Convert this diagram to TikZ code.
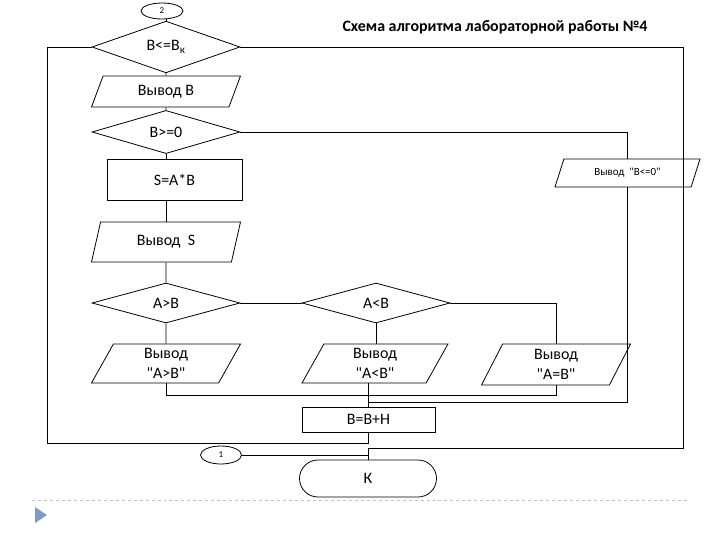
\documentclass[tikz,border=0pt]{standalone}
\usepackage{fontspec}
\setmainfont{Carlito}
\usepackage{tikz}
\usetikzlibrary{shapes.geometric,shapes.misc}
\definecolor{strelka}{RGB}{125,155,200}
\newcommand{\kav}{\textquotedbl}

\tikzset{
  blok/.style={draw, line width=0.8pt, inner sep=0pt, align=center,
    font=\fontsize{16}{20}\selectfont},
  cond/.style={blok, diamond, minimum width=148bp, minimum height=#1},
  io/.style 2 args={blok, trapezium, trapezium left angle=#1,
    trapezium right angle=#2, trapezium stretches body, minimum width=149bp},
  svyaz/.style={draw, line width=0.8pt, ellipse, inner sep=0pt,
    font=\fontsize{9}{10}\selectfont},
  liniya/.style={line width=0.8pt}
}

\begin{document}
\begin{tikzpicture}[x=1bp, y=-1bp]
        \useasboundingbox (0,0) rectangle (720,540);
        %ZAGOLOVOK
        \node[font=\bfseries\fontsize{16}{19}\selectfont] (zagolovok) at (495,27) {Схема алгоритма лабораторной работы №4};
        %BLOKI
        \node[svyaz, minimum width=42bp, minimum height=16bp] (sv2) at (162,11) {2};
        \node[cond=47bp] (uslovie) at (166,47) {B<=B\textsubscript{к}};
        \node[io={48}{132}, minimum height=31bp] (vyvB) at (166,91.5) {Вывод B};
        \node[cond=40bp] (znak) at (166,132) {B>=0};
        \node[blok, rectangle, minimum width=135bp, minimum height=41bp] (raschet) at (174.5,179.5) {S=A*B};
        \node[io={55}{125}, minimum height=40bp] (vyvS) at (166,242) {Вывод\ \ S};
        \node[cond=40bp] (bolshe) at (166,303) {A>B};
        \node[cond=40bp] (menshe) at (376,303) {A<B};
        \node[io={54}{126}, minimum height=39bp] (vyvGT) at (166,363.5) {Вывод\\\kav A>B\kav};
        \node[io={54}{126}, minimum height=39bp, minimum width=146bp] (vyvLT) at (375,363.5) {Вывод\\\kav A<B\kav};
        \node[io={55}{125}, minimum height=41bp] (vyvEQ) at (556,364.5) {Вывод\\\kav A=B\kav};
        \node[io={46}{134}, minimum height=28bp, minimum width=145bp, font=\fontsize{11}{13}\selectfont] (vyvNeg) at (627.5,173) {Вывод\ \ \kav B<=0\kav};
        \node[blok, rectangle, minimum width=133bp, minimum height=25bp] (shag) at (368.5,419.5) {B=B+H};
        \node[svyaz, minimum width=41bp, minimum height=18bp] (sv1) at (221,455) {1};
        \node[blok, rounded rectangle, minimum width=137bp, minimum height=37bp] (kon) at (368,478.5) {К};
        %KOORDINAT
        \coordinate (m1) at (368,395);
        \coordinate (m2) at (368,402);
        \coordinate (levo) at (47,443);
        \coordinate (pravo) at (683,448);
        %LINII
        \draw[liniya] (uslovie.north) -- (uslovie.north |- sv2.south);
        \draw[liniya] (uslovie.south) -- (vyvB.north);
        \draw[liniya] (vyvB.south) -- (znak.north);
        \draw[liniya] (znak.south) -- (znak.south |- raschet.north);
        \draw[liniya] (vyvS.north |- raschet.south) -- (vyvS.north);
        \draw[liniya] (vyvS.south) -- (bolshe.north);
        \draw[liniya] (bolshe.south) -- (vyvGT.north);
        \draw[liniya] (bolshe.east) -- (menshe.west);
        \draw[liniya] (menshe.south) -- (menshe.south |- vyvLT.north);
        \draw[liniya] (menshe.east) -| (vyvEQ.north);
        \draw[liniya] (znak.east) -| (vyvNeg.north);
        %SLIYANIE
        \draw[liniya] (vyvGT.south) |- (m1);
        \draw[liniya] (vyvEQ.south) |- (m1);
        \draw[liniya] (vyvNeg.south) |- (m2);
        \draw[liniya] (vyvLT.south -| shag.north) -- (shag.north);
        %CIKL
        \draw[liniya] (shag.south) |- (levo) |- (uslovie.west);
        \draw[liniya] (uslovie.east) -| (pravo) -| (kon.north);
        \draw[liniya] (sv1.east) -| (kon.north);
        %NIZ SLAIDA
        \draw[gray!50, dashed] (32,500) -- (688,500);
        \fill[strelka] (35,507) -- (47,515) -- (35,523) -- cycle;
\end{tikzpicture}
\end{document}
